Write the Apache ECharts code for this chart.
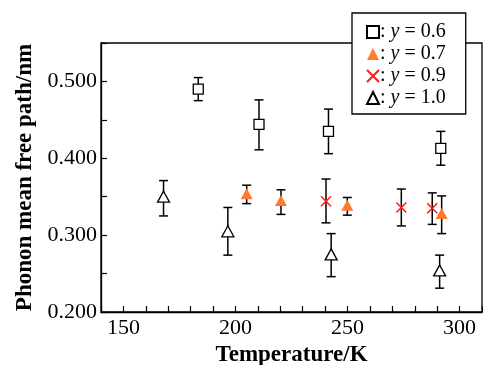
<!DOCTYPE html>
<html>
<head>
<meta charset="utf-8">
<script src="https://cdn.jsdelivr.net/npm/echarts@6/dist/echarts.min.js"></script>
<style>html,body{margin:0;padding:0;background:#fff;}#c{width:483px;height:365px;}</style>
</head>
<body>
<div id="c"></div>
<script>
// Series data: temperature (K), value, error low, error high
const names = ['y = 0.6', 'y = 0.7', 'y = 0.9', 'y = 1.0'];
const t06 = [183.4, 210.5, 241.5, 291.6];
const v06 = [0.490, 0.444, 0.435, 0.413];
const lo06 = [0.475, 0.411, 0.406, 0.391];
const hi06 = [0.505, 0.476, 0.464, 0.435];

const t07 = [205.0, 220.3, 249.9, 292.0];
const v07 = [0.354, 0.345, 0.339, 0.328];
const lo07 = [0.341, 0.327, 0.326, 0.302];
const hi07 = [0.365, 0.359, 0.349, 0.351];

const t09 = [240.4, 274.0, 287.8];
const v09 = [0.344, 0.336, 0.335];
const lo09 = [0.316, 0.312, 0.314];
const hi09 = [0.373, 0.360, 0.355];

const t10 = [167.9, 196.6, 242.7, 291.1];
const v10 = [0.350, 0.305, 0.275, 0.254];
const lo10 = [0.325, 0.274, 0.246, 0.231];
const hi10 = [0.371, 0.336, 0.302, 0.274];

const xMin = 140, xMax = 310, yMin = 0.2, yMax = 0.55;

function pts(t, v) { return t.map((x, i) => [x, v[i]]); }
function errs(t, lo, hi) { return t.map((x, i) => [x, lo[i], hi[i]]); }

const serif = '"Liberation Serif","DejaVu Serif",serif';
const allErr = [].concat(errs(t06, lo06, hi06), errs(t07, lo07, hi07), errs(t09, lo09, hi09), errs(t10, lo10, hi10));

const chart = echarts.init(document.getElementById('c'));
chart.setOption({
  animation: false,
  backgroundColor: '#fff',
  grid: { left: 101, top: 43, right: 1, bottom: 53, containLabel: false, outerBoundsMode: 'none',
    show: true, borderColor: '#000', borderWidth: 1.3, backgroundColor: 'transparent' },
  xAxis: {
    type: 'value', min: xMin, max: xMax, interval: 10,
    name: 'Temperature/K', nameLocation: 'middle', nameGap: 29,
    nameTextStyle: { fontFamily: serif, fontWeight: 'bold', fontSize: 23, color: '#000' },
    axisLine: { lineStyle: { color: '#000', width: 1.3 } },
    axisTick: { inside: true, length: 6, lineStyle: { color: '#000', width: 1.2 } },
    axisLabel: { margin: 5, fontFamily: serif, fontSize: 22, color: '#000',
      formatter: v => (Math.round(v) % 50 === 0 ? String(Math.round(v)) : '') },
    splitLine: { show: false }
  },
  yAxis: {
    type: 'value', min: yMin, max: yMax, interval: 0.05,
    name: 'Phonon mean free path/nm', nameLocation: 'middle', nameGap: 64,
    nameTextStyle: { fontFamily: serif, fontWeight: 'bold', fontSize: 23, color: '#000' },
    axisLine: { lineStyle: { color: '#000', width: 1.3 } },
    axisTick: { inside: true, length: 6, lineStyle: { color: '#000', width: 1.2 } },
    axisLabel: { margin: 4, fontFamily: serif, fontSize: 22, color: '#000',
      formatter: v => (Math.abs(v * 10 - Math.round(v * 10)) < 1e-6 ? v.toFixed(3) : '') },
    splitLine: { show: false }
  },
  legend: {
    orient: 'vertical', left: 352, top: 13,
    data: names,
    backgroundColor: '#fff', borderColor: '#000', borderWidth: 1.3,
    padding: [9, 20, 6, 14], itemGap: 2, itemWidth: 12, itemHeight: 12,
    textStyle: { fontFamily: serif, fontSize: 20, lineHeight: 20, color: '#000', padding: [0, 0, 0, -4],
      rich: { i: { fontFamily: serif, fontSize: 20, lineHeight: 20, fontStyle: 'italic', color: '#000' } } },
    formatter: n => ': {i|y}' + n.slice(1),
    z: 10
  },
  series: [
    {
      type: 'custom', name: 'err', silent: true, z: 1,
      data: allErr,
      renderItem: function (params, api) {
        const x = api.value(0);
        const a = api.coord([x, api.value(1)]);
        const b = api.coord([x, api.value(2)]);
        const w = 4.5;
        const st = { stroke: '#000', lineWidth: 1.5 };
        return { type: 'group', children: [
          { type: 'line', shape: { x1: a[0], y1: a[1], x2: b[0], y2: b[1] }, style: st },
          { type: 'line', shape: { x1: a[0] - w, y1: a[1], x2: a[0] + w, y2: a[1] }, style: st },
          { type: 'line', shape: { x1: b[0] - w, y1: b[1], x2: b[0] + w, y2: b[1] }, style: st }
        ] };
      }
    },
    { type: 'scatter', name: names[0], z: 3, data: pts(t06, v06), symbol: 'rect', symbolSize: 10,
      itemStyle: { color: '#fff', borderColor: '#000', borderWidth: 1.3, opacity: 1 } },
    { type: 'scatter', name: names[1], z: 3, data: pts(t07, v07), symbol: 'triangle', symbolSize: [12, 11],
      itemStyle: { color: '#ff7a2c', opacity: 1 } },
    { type: 'scatter', name: names[2], z: 3, data: pts(t09, v09), symbol: 'path://M0,0L10,10M10,0L0,10', symbolSize: 10,
      itemStyle: { color: 'transparent', borderColor: '#ff1a1a', borderWidth: 1.5, opacity: 1 } },
    { type: 'scatter', name: names[3], z: 3, data: pts(t10, v10), symbol: 'triangle', symbolSize: [12, 11],
      itemStyle: { color: '#fff', borderColor: '#000', borderWidth: 1.3, opacity: 1 } }
  ]
});
</script>
</body>
</html>
